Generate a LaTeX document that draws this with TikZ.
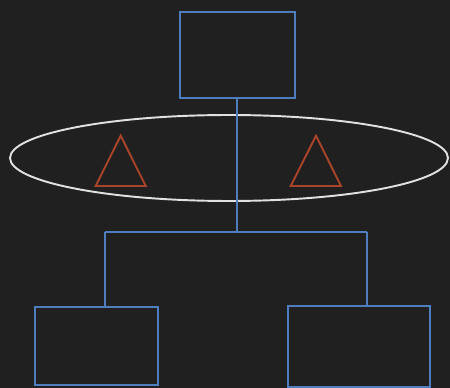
\documentclass[tikz,border=0pt]{standalone}
\usepackage{tikz}
\usetikzlibrary{positioning,calc,shapes.geometric}
\definecolor{DarkBg}{RGB}{33,32,32}
\definecolor{BoxBlue}{RGB}{79,126,190}
\definecolor{RustRed}{RGB}{168,68,42}
\definecolor{RingWhite}{RGB}{225,225,225}

\begin{document}
\begin{tikzpicture}[x=0.02cm,y=-0.02cm,line width=1.1pt]
\tikzset{blockbox/.style={draw=BoxBlue,line width=1.1pt,inner sep=0pt},
  wire/.style={draw=BoxBlue,line width=1.1pt},
  tri/.style={draw=RustRed,line width=1.1pt,line join=miter}}
\fill[DarkBg] (0,0) rectangle (450,388);
\useasboundingbox (0,0) rectangle (450,388);
\node[blockbox,minimum width=2.3cm,minimum height=1.72cm] (top) at (237.5,55) {};
\node[blockbox,minimum width=2.47cm,minimum height=1.55cm] (left) at (96.5,346.2) {};
\node[blockbox,minimum width=2.83cm,minimum height=1.63cm] (right) at (359.2,346.4) {};
\node[draw=RingWhite,ellipse,line width=1.1pt,inner sep=0pt,minimum width=8.76cm,minimum height=1.72cm] (ring) at (229,158) {};
\draw[tri] (120.7,135.7) -- (145.7,186) -- (95.7,186) -- cycle;
\draw[tri] (316,135.7) -- (341,186) -- (290.7,186) -- cycle;
\coordinate (fork) at (237,231.7);
\coordinate (lfork) at (105,231.7);
\coordinate (rfork) at (367.3,231.7);
\draw[wire] (fork |- top.south) -- (fork);
\draw[wire] (lfork) -- (rfork);
\draw[wire] (lfork) -- (lfork |- left.north);
\draw[wire] (rfork) -- (rfork |- right.north);
\end{tikzpicture}
\end{document}
